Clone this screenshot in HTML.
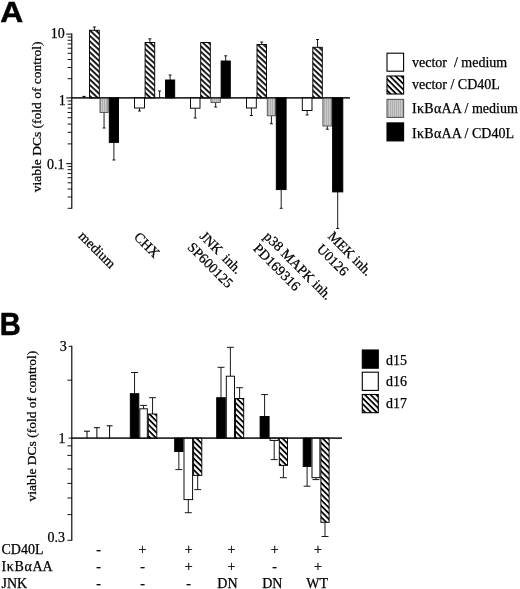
<!DOCTYPE html>
<html><head><meta charset="utf-8"><title>Figure</title>
<style>
html,body{margin:0;padding:0;background:#fff;}
body{width:520px;height:589px;overflow:hidden;}
svg{display:block;}
text{font-family:"Liberation Serif","DejaVu Serif",serif;fill:#000;stroke:#000;stroke-width:0.25px;}
.b{font-family:"Liberation Sans",sans-serif;font-weight:bold;}
</style></head><body>
<svg width="520" height="589" viewBox="0 0 520 589">
<defs>
<pattern id="h2" patternUnits="userSpaceOnUse" width="4" height="4" patternTransform="rotate(43)">
<rect x="0" y="0" width="4" height="4" fill="#fff"/>
<rect x="0" y="0" width="4" height="1.75" fill="#000"/>
</pattern>
<pattern id="h3" patternUnits="userSpaceOnUse" width="4.05" height="4.05" patternTransform="rotate(45)">
<rect x="0" y="0" width="4.05" height="4.05" fill="#fff"/>
<rect x="0" y="0" width="4.05" height="1.8" fill="#000"/>
</pattern>
<pattern id="g" patternUnits="userSpaceOnUse" width="2" height="4">
<rect x="0" y="0" width="2" height="4" fill="#cacaca"/>
<rect x="0" y="0" width="0.8" height="4" fill="#a8a8a8"/>
</pattern>
</defs>
<rect x="0" y="0" width="520" height="589" fill="#fff"/>

<text class="b" x="0.2" y="22.3" font-size="30" transform="translate(0,0) scale(1.06,1)" style="stroke-width:0.5px">A</text>
<line x1="71.80" y1="33.40" x2="71.80" y2="208.80" stroke="#000" stroke-width="1.15"/>
<line x1="66.20" y1="97.90" x2="71.80" y2="97.90" stroke="#000" stroke-width="1.0"/>
<line x1="67.60" y1="78.69" x2="71.80" y2="78.69" stroke="#000" stroke-width="0.9"/>
<line x1="67.60" y1="67.46" x2="71.80" y2="67.46" stroke="#000" stroke-width="0.9"/>
<line x1="67.60" y1="59.49" x2="71.80" y2="59.49" stroke="#000" stroke-width="0.9"/>
<line x1="67.60" y1="53.31" x2="71.80" y2="53.31" stroke="#000" stroke-width="0.9"/>
<line x1="67.60" y1="48.25" x2="71.80" y2="48.25" stroke="#000" stroke-width="0.9"/>
<line x1="67.60" y1="43.98" x2="71.80" y2="43.98" stroke="#000" stroke-width="0.9"/>
<line x1="67.60" y1="40.28" x2="71.80" y2="40.28" stroke="#000" stroke-width="0.9"/>
<line x1="67.60" y1="37.02" x2="71.80" y2="37.02" stroke="#000" stroke-width="0.9"/>
<line x1="66.20" y1="163.70" x2="71.80" y2="163.70" stroke="#000" stroke-width="1.0"/>
<line x1="67.60" y1="143.89" x2="71.80" y2="143.89" stroke="#000" stroke-width="0.9"/>
<line x1="67.60" y1="132.31" x2="71.80" y2="132.31" stroke="#000" stroke-width="0.9"/>
<line x1="67.60" y1="124.08" x2="71.80" y2="124.08" stroke="#000" stroke-width="0.9"/>
<line x1="67.60" y1="117.71" x2="71.80" y2="117.71" stroke="#000" stroke-width="0.9"/>
<line x1="67.60" y1="112.50" x2="71.80" y2="112.50" stroke="#000" stroke-width="0.9"/>
<line x1="67.60" y1="108.09" x2="71.80" y2="108.09" stroke="#000" stroke-width="0.9"/>
<line x1="67.60" y1="104.28" x2="71.80" y2="104.28" stroke="#000" stroke-width="0.9"/>
<line x1="67.60" y1="100.91" x2="71.80" y2="100.91" stroke="#000" stroke-width="0.9"/>
<line x1="67.60" y1="208.30" x2="71.80" y2="208.30" stroke="#000" stroke-width="0.9"/>
<line x1="67.60" y1="197.02" x2="71.80" y2="197.02" stroke="#000" stroke-width="0.9"/>
<line x1="67.60" y1="189.01" x2="71.80" y2="189.01" stroke="#000" stroke-width="0.9"/>
<line x1="67.60" y1="182.80" x2="71.80" y2="182.80" stroke="#000" stroke-width="0.9"/>
<line x1="67.60" y1="177.72" x2="71.80" y2="177.72" stroke="#000" stroke-width="0.9"/>
<line x1="67.60" y1="173.43" x2="71.80" y2="173.43" stroke="#000" stroke-width="0.9"/>
<line x1="67.60" y1="169.71" x2="71.80" y2="169.71" stroke="#000" stroke-width="0.9"/>
<line x1="67.60" y1="166.43" x2="71.80" y2="166.43" stroke="#000" stroke-width="0.9"/>
<line x1="66.20" y1="34.10" x2="71.80" y2="34.10" stroke="#000" stroke-width="1.0"/>
<line x1="71.80" y1="97.90" x2="350.00" y2="97.90" stroke="#000" stroke-width="0.95"/>
<text x="64.7" y="37.5" font-size="14" text-anchor="end">10</text>
<text x="65.2" y="104.6" font-size="14" text-anchor="end" dx="0.6">1</text>
<text x="64.6" y="168.8" font-size="14" text-anchor="end">0.1</text>
<text transform="translate(41.2,116.8) rotate(-90)" font-size="13.5" text-anchor="middle">viable DCs (fold of control)</text>
<line x1="94.40" y1="30.30" x2="94.40" y2="27.00" stroke="#000" stroke-width="0.9"/>
<line x1="92.90" y1="27.00" x2="95.90" y2="27.00" stroke="#000" stroke-width="0.9"/>
<line x1="104.05" y1="112.50" x2="104.05" y2="128.00" stroke="#000" stroke-width="0.9"/>
<line x1="102.55" y1="128.00" x2="105.55" y2="128.00" stroke="#000" stroke-width="0.9"/>
<line x1="113.90" y1="142.40" x2="113.90" y2="160.00" stroke="#000" stroke-width="0.9"/>
<line x1="112.40" y1="160.00" x2="115.40" y2="160.00" stroke="#000" stroke-width="0.9"/>
<line x1="139.50" y1="108.00" x2="139.50" y2="111.00" stroke="#000" stroke-width="0.9"/>
<line x1="138.00" y1="111.00" x2="141.00" y2="111.00" stroke="#000" stroke-width="0.9"/>
<line x1="149.90" y1="42.50" x2="149.90" y2="38.80" stroke="#000" stroke-width="0.9"/>
<line x1="148.40" y1="38.80" x2="151.40" y2="38.80" stroke="#000" stroke-width="0.9"/>
<line x1="170.10" y1="80.00" x2="170.10" y2="75.00" stroke="#000" stroke-width="0.9"/>
<line x1="168.60" y1="75.00" x2="171.60" y2="75.00" stroke="#000" stroke-width="0.9"/>
<line x1="195.25" y1="108.20" x2="195.25" y2="118.00" stroke="#000" stroke-width="0.9"/>
<line x1="193.75" y1="118.00" x2="196.75" y2="118.00" stroke="#000" stroke-width="0.9"/>
<line x1="215.65" y1="102.50" x2="215.65" y2="107.00" stroke="#000" stroke-width="0.9"/>
<line x1="214.15" y1="107.00" x2="217.15" y2="107.00" stroke="#000" stroke-width="0.9"/>
<line x1="225.70" y1="61.00" x2="225.70" y2="55.80" stroke="#000" stroke-width="0.9"/>
<line x1="224.20" y1="55.80" x2="227.20" y2="55.80" stroke="#000" stroke-width="0.9"/>
<line x1="251.40" y1="108.00" x2="251.40" y2="115.50" stroke="#000" stroke-width="0.9"/>
<line x1="249.90" y1="115.50" x2="252.90" y2="115.50" stroke="#000" stroke-width="0.9"/>
<line x1="261.75" y1="44.50" x2="261.75" y2="42.00" stroke="#000" stroke-width="0.9"/>
<line x1="260.25" y1="42.00" x2="263.25" y2="42.00" stroke="#000" stroke-width="0.9"/>
<line x1="271.40" y1="115.80" x2="271.40" y2="123.80" stroke="#000" stroke-width="0.9"/>
<line x1="269.90" y1="123.80" x2="272.90" y2="123.80" stroke="#000" stroke-width="0.9"/>
<line x1="281.20" y1="189.60" x2="281.20" y2="208.30" stroke="#000" stroke-width="0.9"/>
<line x1="279.70" y1="208.30" x2="282.70" y2="208.30" stroke="#000" stroke-width="0.9"/>
<line x1="307.15" y1="110.50" x2="307.15" y2="115.00" stroke="#000" stroke-width="0.9"/>
<line x1="305.65" y1="115.00" x2="308.65" y2="115.00" stroke="#000" stroke-width="0.9"/>
<line x1="317.55" y1="47.30" x2="317.55" y2="39.50" stroke="#000" stroke-width="0.9"/>
<line x1="316.05" y1="39.50" x2="319.05" y2="39.50" stroke="#000" stroke-width="0.9"/>
<line x1="327.30" y1="126.00" x2="327.30" y2="129.20" stroke="#000" stroke-width="0.9"/>
<line x1="325.80" y1="129.20" x2="328.80" y2="129.20" stroke="#000" stroke-width="0.9"/>
<line x1="337.70" y1="191.90" x2="337.70" y2="228.50" stroke="#000" stroke-width="0.9"/>
<line x1="336.20" y1="228.50" x2="339.20" y2="228.50" stroke="#000" stroke-width="0.9"/>
<rect x="89.50" y="30.30" width="9.80" height="67.60" fill="url(#h2)" stroke="#000" stroke-width="0.95"/>
<rect x="100.00" y="97.90" width="8.10" height="14.60" fill="url(#g)" stroke="#555" stroke-width="0.95"/>
<rect x="109.30" y="97.90" width="9.20" height="44.50" fill="#000" stroke="#000" stroke-width="0.95"/>
<rect x="134.50" y="97.90" width="10.00" height="10.10" fill="#fff" stroke="#000" stroke-width="0.95"/>
<rect x="145.10" y="42.50" width="9.60" height="55.40" fill="url(#h2)" stroke="#000" stroke-width="0.95"/>
<rect x="165.50" y="80.00" width="9.20" height="17.90" fill="#000" stroke="#000" stroke-width="0.95"/>
<rect x="190.50" y="97.90" width="9.50" height="10.30" fill="#fff" stroke="#000" stroke-width="0.95"/>
<rect x="200.70" y="42.50" width="9.60" height="55.40" fill="url(#h2)" stroke="#000" stroke-width="0.95"/>
<rect x="211.00" y="97.90" width="9.30" height="4.60" fill="url(#g)" stroke="#555" stroke-width="0.95"/>
<rect x="221.10" y="61.00" width="9.20" height="36.90" fill="#000" stroke="#000" stroke-width="0.95"/>
<rect x="246.50" y="97.90" width="9.80" height="10.10" fill="#fff" stroke="#000" stroke-width="0.95"/>
<rect x="257.00" y="44.50" width="9.50" height="53.40" fill="url(#h2)" stroke="#000" stroke-width="0.95"/>
<rect x="267.30" y="97.90" width="8.20" height="17.90" fill="url(#g)" stroke="#555" stroke-width="0.95"/>
<rect x="276.30" y="97.90" width="9.80" height="91.70" fill="#000" stroke="#000" stroke-width="0.95"/>
<rect x="302.30" y="97.90" width="9.70" height="12.60" fill="#fff" stroke="#000" stroke-width="0.95"/>
<rect x="312.80" y="47.30" width="9.50" height="50.60" fill="url(#h2)" stroke="#000" stroke-width="0.95"/>
<rect x="322.90" y="97.90" width="8.80" height="28.10" fill="url(#g)" stroke="#555" stroke-width="0.95"/>
<rect x="332.60" y="97.90" width="10.20" height="94.00" fill="#000" stroke="#000" stroke-width="0.95"/>
<line x1="84.00" y1="97.90" x2="84.00" y2="96.40" stroke="#000" stroke-width="1.0"/>
<line x1="82.40" y1="96.40" x2="85.60" y2="96.40" stroke="#000" stroke-width="1.0"/>
<line x1="159.60" y1="97.90" x2="159.60" y2="91.00" stroke="#000" stroke-width="0.9"/>
<line x1="158.10" y1="91.00" x2="161.10" y2="91.00" stroke="#000" stroke-width="0.9"/>
<line x1="71.80" y1="97.90" x2="350.00" y2="97.90" stroke="#000" stroke-width="0.95"/>
<text transform="translate(77.7,236.8) rotate(45)" font-size="14">medium</text>
<text transform="translate(133.2,237.8) rotate(45)" font-size="14">CHX</text>
<text transform="translate(199,237.1) rotate(45)" font-size="14" word-spacing="2.5">JNK inh.</text>
<text transform="translate(186.7,248.1) rotate(45)" font-size="14">SP600125</text>
<text transform="translate(263,237.2) rotate(45)" font-size="14">p38 MAPK inh.</text>
<text transform="translate(252.4,249.3) rotate(45)" font-size="14">PD169316</text>
<text transform="translate(327.2,237.1) rotate(45)" font-size="14">MEK inh.</text>
<text transform="translate(316,249.8) rotate(45)" font-size="14">U0126</text>
<rect x="387" y="53.2" width="16.6" height="18" fill="#fff" stroke="#000" stroke-width="1.1"/>
<rect x="387" y="76" width="16.6" height="18" fill="url(#h3)" stroke="#000" stroke-width="1.1"/>
<rect x="387" y="99.4" width="16.6" height="18" fill="url(#g)" stroke="#555" stroke-width="1.1"/>
<rect x="387" y="122.9" width="16.6" height="18" fill="#000" stroke="#000" stroke-width="1.1"/>
<text x="412" y="67.3" font-size="14" xml:space="preserve">vector  / medium</text>
<text x="412" y="89.3" font-size="14">vector / CD40L</text>
<text x="412" y="113" font-size="14"><tspan letter-spacing="0.3">IκBα</tspan>AA / medium</text>
<text x="412" y="137.6" font-size="14"><tspan letter-spacing="0.3">IκBα</tspan>AA / CD40L</text>
<text class="b" transform="translate(-0.3,335.1) scale(0.97,1.04)" font-size="30" style="stroke-width:0.5px">B</text>
<line x1="71.80" y1="345.80" x2="71.80" y2="540.80" stroke="#000" stroke-width="1.15"/>
<line x1="68.60" y1="346.30" x2="71.80" y2="346.30" stroke="#000" stroke-width="0.9"/>
<line x1="67.30" y1="380.20" x2="71.80" y2="380.20" stroke="#000" stroke-width="0.9"/>
<line x1="68.60" y1="438.10" x2="71.80" y2="438.10" stroke="#000" stroke-width="0.9"/>
<line x1="67.30" y1="445.90" x2="71.80" y2="445.90" stroke="#000" stroke-width="0.9"/>
<line x1="67.30" y1="455.40" x2="71.80" y2="455.40" stroke="#000" stroke-width="0.9"/>
<line x1="67.30" y1="469.00" x2="71.80" y2="469.00" stroke="#000" stroke-width="0.9"/>
<line x1="67.30" y1="483.40" x2="71.80" y2="483.40" stroke="#000" stroke-width="0.9"/>
<line x1="67.30" y1="498.00" x2="71.80" y2="498.00" stroke="#000" stroke-width="0.9"/>
<line x1="67.30" y1="514.60" x2="71.80" y2="514.60" stroke="#000" stroke-width="0.9"/>
<line x1="67.30" y1="540.30" x2="71.80" y2="540.30" stroke="#000" stroke-width="0.9"/>
<line x1="71.80" y1="438.10" x2="342.00" y2="438.10" stroke="#000" stroke-width="0.95"/>
<text x="66.7" y="351" font-size="14" text-anchor="end">3</text>
<text x="65.4" y="443.1" font-size="14" text-anchor="end">1</text>
<text x="64.9" y="542.4" font-size="14" text-anchor="end">0.3</text>
<text transform="translate(36.4,426.2) rotate(-90)" font-size="13.5" text-anchor="middle">viable DCs (fold of control)</text>
<line x1="134.55" y1="393.70" x2="134.55" y2="372.50" stroke="#000" stroke-width="0.9"/>
<line x1="131.05" y1="372.50" x2="138.05" y2="372.50" stroke="#000" stroke-width="0.9"/>
<line x1="143.55" y1="408.80" x2="143.55" y2="405.40" stroke="#000" stroke-width="0.9"/>
<line x1="140.05" y1="405.40" x2="147.05" y2="405.40" stroke="#000" stroke-width="0.9"/>
<line x1="152.55" y1="414.00" x2="152.55" y2="397.70" stroke="#000" stroke-width="0.9"/>
<line x1="149.05" y1="397.70" x2="156.05" y2="397.70" stroke="#000" stroke-width="0.9"/>
<line x1="178.85" y1="451.50" x2="178.85" y2="469.60" stroke="#000" stroke-width="0.9"/>
<line x1="175.35" y1="469.60" x2="182.35" y2="469.60" stroke="#000" stroke-width="0.9"/>
<line x1="188.30" y1="499.60" x2="188.30" y2="512.70" stroke="#000" stroke-width="0.9"/>
<line x1="184.80" y1="512.70" x2="191.80" y2="512.70" stroke="#000" stroke-width="0.9"/>
<line x1="197.70" y1="475.40" x2="197.70" y2="489.60" stroke="#000" stroke-width="0.9"/>
<line x1="194.20" y1="489.60" x2="201.20" y2="489.60" stroke="#000" stroke-width="0.9"/>
<line x1="221.00" y1="397.70" x2="221.00" y2="367.30" stroke="#000" stroke-width="0.9"/>
<line x1="217.50" y1="367.30" x2="224.50" y2="367.30" stroke="#000" stroke-width="0.9"/>
<line x1="230.40" y1="376.20" x2="230.40" y2="347.30" stroke="#000" stroke-width="0.9"/>
<line x1="226.90" y1="347.30" x2="233.90" y2="347.30" stroke="#000" stroke-width="0.9"/>
<line x1="239.60" y1="398.50" x2="239.60" y2="387.70" stroke="#000" stroke-width="0.9"/>
<line x1="236.10" y1="387.70" x2="243.10" y2="387.70" stroke="#000" stroke-width="0.9"/>
<line x1="264.60" y1="416.50" x2="264.60" y2="394.60" stroke="#000" stroke-width="0.9"/>
<line x1="261.10" y1="394.60" x2="268.10" y2="394.60" stroke="#000" stroke-width="0.9"/>
<line x1="274.20" y1="440.40" x2="274.20" y2="459.60" stroke="#000" stroke-width="0.9"/>
<line x1="270.70" y1="459.60" x2="277.70" y2="459.60" stroke="#000" stroke-width="0.9"/>
<line x1="283.40" y1="465.40" x2="283.40" y2="477.70" stroke="#000" stroke-width="0.9"/>
<line x1="279.90" y1="477.70" x2="286.90" y2="477.70" stroke="#000" stroke-width="0.9"/>
<line x1="307.10" y1="466.50" x2="307.10" y2="486.20" stroke="#000" stroke-width="0.9"/>
<line x1="303.60" y1="486.20" x2="310.60" y2="486.20" stroke="#000" stroke-width="0.9"/>
<line x1="315.95" y1="477.70" x2="315.95" y2="479.60" stroke="#000" stroke-width="0.9"/>
<line x1="312.45" y1="479.60" x2="319.45" y2="479.60" stroke="#000" stroke-width="0.9"/>
<line x1="325.00" y1="522.30" x2="325.00" y2="536.50" stroke="#000" stroke-width="0.9"/>
<line x1="321.50" y1="536.50" x2="328.50" y2="536.50" stroke="#000" stroke-width="0.9"/>
<rect x="130.30" y="393.70" width="8.50" height="44.40" fill="#000" stroke="#000" stroke-width="0.95"/>
<rect x="139.80" y="408.80" width="7.50" height="29.30" fill="#fff" stroke="#000" stroke-width="0.95"/>
<rect x="148.30" y="414.00" width="8.50" height="24.10" fill="url(#h3)" stroke="#000" stroke-width="0.95"/>
<rect x="174.70" y="438.10" width="8.30" height="13.40" fill="#000" stroke="#000" stroke-width="0.95"/>
<rect x="184.00" y="438.10" width="8.60" height="61.50" fill="#fff" stroke="#000" stroke-width="0.95"/>
<rect x="193.60" y="438.10" width="8.20" height="37.30" fill="url(#h3)" stroke="#000" stroke-width="0.95"/>
<rect x="216.70" y="397.70" width="8.60" height="40.40" fill="#000" stroke="#000" stroke-width="0.95"/>
<rect x="226.30" y="376.20" width="8.20" height="61.90" fill="#fff" stroke="#000" stroke-width="0.95"/>
<rect x="235.50" y="398.50" width="8.20" height="39.60" fill="url(#h3)" stroke="#000" stroke-width="0.95"/>
<rect x="260.10" y="416.50" width="9.00" height="21.60" fill="#000" stroke="#000" stroke-width="0.95"/>
<rect x="270.10" y="438.10" width="8.20" height="2.30" fill="#fff" stroke="#000" stroke-width="0.95"/>
<rect x="279.30" y="438.10" width="8.20" height="27.30" fill="url(#h3)" stroke="#000" stroke-width="0.95"/>
<rect x="303.20" y="438.10" width="7.80" height="28.40" fill="#000" stroke="#000" stroke-width="0.95"/>
<rect x="312.00" y="438.10" width="7.90" height="39.60" fill="#fff" stroke="#000" stroke-width="0.95"/>
<rect x="320.90" y="438.10" width="8.20" height="84.20" fill="url(#h3)" stroke="#000" stroke-width="0.95"/>
<line x1="87.00" y1="438.10" x2="87.00" y2="431.20" stroke="#000" stroke-width="1.0"/>
<line x1="84.00" y1="431.20" x2="90.00" y2="431.20" stroke="#000" stroke-width="1.0"/>
<line x1="96.90" y1="438.10" x2="96.90" y2="427.70" stroke="#000" stroke-width="1.0"/>
<line x1="93.90" y1="427.70" x2="99.90" y2="427.70" stroke="#000" stroke-width="1.0"/>
<line x1="109.60" y1="438.10" x2="109.60" y2="425.80" stroke="#000" stroke-width="1.0"/>
<line x1="106.60" y1="425.80" x2="112.60" y2="425.80" stroke="#000" stroke-width="1.0"/>
<line x1="71.80" y1="438.10" x2="342.00" y2="438.10" stroke="#000" stroke-width="0.95"/>
<rect x="362.3" y="350" width="16" height="18.2" fill="#000" stroke="#000" stroke-width="1.1"/>
<rect x="362.3" y="372.2" width="16" height="18.2" fill="#fff" stroke="#000" stroke-width="1.1"/>
<rect x="362.3" y="394.5" width="16" height="18.2" fill="url(#h3)" stroke="#000" stroke-width="1.1"/>
<text x="386" y="365.1" font-size="14">d15</text>
<text x="386" y="385.6" font-size="14">d16</text>
<text x="386" y="407.7" font-size="14">d17</text>
<text x="1.5" y="553.6" font-size="14">CD40L</text>
<text x="98.7" y="553.6" font-size="14" text-anchor="middle">-</text>
<text x="142.5" y="553.6" font-size="14" text-anchor="middle">+</text>
<text x="188.7" y="553.6" font-size="14" text-anchor="middle">+</text>
<text x="231.4" y="553.6" font-size="14" text-anchor="middle">+</text>
<text x="274.6" y="553.6" font-size="14" text-anchor="middle">+</text>
<text x="318" y="553.6" font-size="14" text-anchor="middle">+</text>
<text x="1.5" y="570.9" font-size="14"><tspan letter-spacing="0.65">IκBα</tspan>AA</text>
<text x="98.7" y="570.9" font-size="14" text-anchor="middle">-</text>
<text x="142.5" y="570.9" font-size="14" text-anchor="middle">-</text>
<text x="188.7" y="570.9" font-size="14" text-anchor="middle">+</text>
<text x="231.4" y="570.9" font-size="14" text-anchor="middle">+</text>
<text x="274.6" y="570.9" font-size="14" text-anchor="middle">-</text>
<text x="318" y="570.9" font-size="14" text-anchor="middle">+</text>
<text x="1.5" y="588.2" font-size="14">JNK</text>
<text x="98.7" y="588.2" font-size="14" text-anchor="middle">-</text>
<text x="142.5" y="588.2" font-size="14" text-anchor="middle">-</text>
<text x="188.7" y="588.2" font-size="14" text-anchor="middle">-</text>
<text x="227.4" y="588.2" font-size="14" text-anchor="middle">DN</text>
<text x="272.3" y="588.2" font-size="14" text-anchor="middle">DN</text>
<text x="317.1" y="588.2" font-size="14" text-anchor="middle">WT</text>
</svg></body></html>
